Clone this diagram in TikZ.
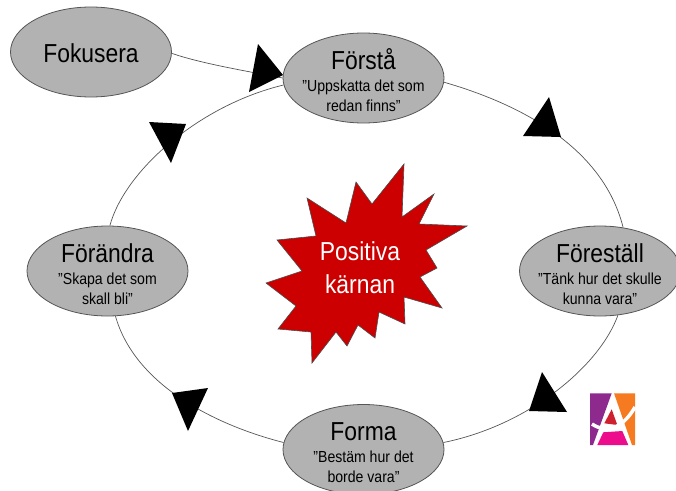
\documentclass[tikz,border=0pt]{standalone}
\usepackage{fontspec}
\setmainfont[FakeStretch=0.88]{Liberation Sans}
\usetikzlibrary{shapes.geometric}
\definecolor{ovalgrey}{HTML}{B2B2B2}
\definecolor{edgegrey}{HTML}{555555}
\definecolor{starred}{HTML}{CC0000}
\definecolor{logopurple}{HTML}{8E2A8E}
\definecolor{logoorange}{HTML}{F57A20}
\definecolor{logored}{HTML}{CF2030}
\definecolor{logopink}{HTML}{EC0C8C}
\newcommand{\ovaltext}[3]{\rule{0pt}{28pt}{\fontsize{26}{20}\selectfont #1}\\[2pt]#2\\#3\rule[-4pt]{0pt}{4pt}}
\tikzset{
  oval/.style={ellipse,draw=edgegrey,fill=ovalgrey,line width=0.8pt,inner sep=0pt,
    minimum width=161pt,minimum height=90pt},
  ovaltxt/.style={align=center,text=black,inner sep=0pt,font=\fontsize{16}{20}\selectfont},
  link/.style={draw=edgegrey,line width=0.7pt},
  head/.style={fill=black,draw=none},
  burst/.style={fill=starred,draw=black!70,line width=0.6pt},
}
\begin{document}
\begin{tikzpicture}[x=1pt,y=-1pt]
\useasboundingbox (0,0) rectangle (676,490);
\clip (0,0) rectangle (676,490);
\node[oval,label={[ovaltxt,yshift=-1pt,font=\fontsize{26}{26}\selectfont]center:Fokusera}] (fokusera) at (91,52) {};
\node[oval,label={[ovaltxt]center:{\ovaltext{Förstå}{”Uppskatta det som}{redan finns”}}}] (forsta) at (363.5,78) {};
\node[oval,label={[ovaltxt]center:{\ovaltext{Föreställ}{”Tänk hur det skulle}{kunna vara”}}}] (forestall) at (600,271) {};
\node[oval,label={[ovaltxt]center:{\ovaltext{Forma}{”Bestäm hur det}{borde vara”}}}] (forma) at (363.5,449.5) {};
\node[oval,label={[ovaltxt]center:{\ovaltext{Förändra}{”Skapa det som}{skall bli”}}}] (forandra) at (107.5,271) {};
% connectors
\draw[link] (fokusera.-1) .. controls (200,63) and (240,70) .. (forsta.180);
\draw[link] (forsta.-3) .. controls (495,97) and (600,135) .. (forestall.62);
\draw[link] (forestall.-68) .. controls (600,365) and (530,425) .. (forma.5);
\draw[link] (forma.175) .. controls (215,425) and (135,385) .. (forandra.-80);
\draw[link] (forandra.87) .. controls (125,170) and (200,105) .. (forsta.185);
% arrowheads
\fill[head] (258,44) -- (283,75) -- (249,92) -- cycle;
\fill[head] (149,122) -- (186,124) -- (171,163) -- cycle;
\fill[head] (549,97) -- (523,136) -- (561,137) -- cycle;
\fill[head] (542,372) -- (529,411) -- (567,412) -- cycle;
\fill[head] (172,393) -- (208,388) -- (188,431) -- cycle;
% star
\path[burst] (404,164) -- (402,217) -- (434,194) -- (419,224) -- (467,226) -- (426,250)
  -- (437,268) -- (420,277) -- (442,308) -- (404,297) -- (405,324) -- (379,312)
  -- (375,338) -- (358,325) -- (347,346) -- (336,332) -- (312,363) -- (311,332)
  -- (278,329) -- (296,306) -- (266,283) -- (302,271) -- (277,240) -- (316,236)
  -- (307,198) -- (346,223) -- (356,182) -- (372,204) -- cycle;
\node[text=white,align=center,inner sep=0pt,font=\fontsize{26}{32.5}\selectfont] (karna) at (360,267.5)
  {Positiva\\ kärnan};
% logo
\fill[logopurple] (590,393.3) -- (611.7,393.3) -- (593,445) -- (590,445) -- cycle;
\fill[logoorange] (614,393.3) -- (635,393.3) -- (635,445) -- (632,445) -- cycle;
\fill[logored] (611.7,409.3) -- (617.3,425) -- (604.3,423.3) -- cycle;
\fill[logopink] (603.3,432.3) -- (622.3,431) -- (628.3,445) -- (597.3,445) -- cycle;
\draw[white,line width=3.5pt] (592,424) .. controls (605,433) and (622,430) .. (635,407);
\end{tikzpicture}
\end{document}
